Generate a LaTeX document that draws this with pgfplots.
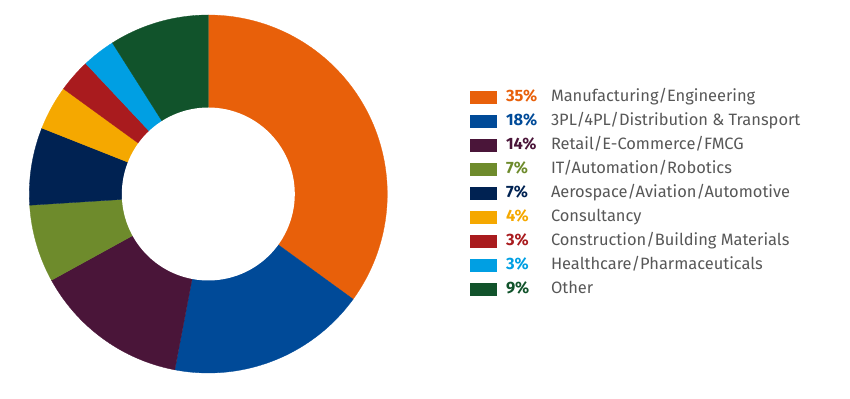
\documentclass[border=0pt]{standalone}
\usepackage{pgfplots}
\pgfplotsset{compat=1.18}
\usepackage{fontspec}
\setmainfont{Fira Sans}
\definecolor{cManu}{HTML}{E8600A}
\definecolor{cLog}{HTML}{004A98}
\definecolor{cRet}{HTML}{4A1539}
\definecolor{cIT}{HTML}{6E8B2C}
\definecolor{cAero}{HTML}{002252}
\definecolor{cCons}{HTML}{F5A800}
\definecolor{cConst}{HTML}{A91B1E}
\definecolor{cHealth}{HTML}{009FE3}
\definecolor{cOther}{HTML}{11532B}
\definecolor{cText}{HTML}{575757}
\newcommand{\pct}[2]{\makebox[45bp][l]{\textcolor{#1}{\bfseries #2}}}
\begin{document}
\begin{tikzpicture}
\begin{axis}[
  width=850bp, height=398bp, scale only axis,
  xmin=0, xmax=850, ymin=0, ymax=398,
  hide axis, clip=false,
  legend cell align=left,
  legend image code/.code={\fill[#1] (0bp,-6bp) rectangle (26bp,6bp);},
  legend style={at={(axis cs:470,310)}, anchor=north west, draw=none, fill=none,
    inner sep=0pt, outer sep=0pt, row sep=6bp, column sep=9.7bp,
    font=\fontsize{16.5}{19}\selectfont, text=cText,
    nodes={inner sep=0pt, text height=13.5bp, text depth=4.5bp}},
]
% invisible frame so that the picture spans the whole axis area
\addplot[draw=none, forget plot] coordinates {(0,0) (850,398)};
% donut sectors: domain = cumulative percentage bounds
\addplot[fill=cManu, draw=cManu, line width=0.3bp, domain=0:35, samples=80, variable=\p]
  ({208.3+179*cos(90-3.6*\p)}, {204+179*sin(90-3.6*\p)}) -- (axis cs:208.3,204) -- cycle;
\addlegendentry{\pct{cManu}{35\%}Manufacturing/Engineering}
\addplot[fill=cLog, draw=cLog, line width=0.3bp, domain=35:53, samples=40, variable=\p]
  ({208.3+179*cos(90-3.6*\p)}, {204+179*sin(90-3.6*\p)}) -- (axis cs:208.3,204) -- cycle;
\addlegendentry{\pct{cLog}{18\%}3PL/4PL/Distribution \& Transport}
\addplot[fill=cRet, draw=cRet, line width=0.3bp, domain=53:67, samples=30, variable=\p]
  ({208.3+179*cos(90-3.6*\p)}, {204+179*sin(90-3.6*\p)}) -- (axis cs:208.3,204) -- cycle;
\addlegendentry{\pct{cRet}{14\%}Retail/E-Commerce/FMCG}
\addplot[fill=cIT, draw=cIT, line width=0.3bp, domain=67:74, samples=20, variable=\p]
  ({208.3+179*cos(90-3.6*\p)}, {204+179*sin(90-3.6*\p)}) -- (axis cs:208.3,204) -- cycle;
\addlegendentry{\pct{cIT}{7\%}IT/Automation/Robotics}
\addplot[fill=cAero, draw=cAero, line width=0.3bp, domain=74:81, samples=20, variable=\p]
  ({208.3+179*cos(90-3.6*\p)}, {204+179*sin(90-3.6*\p)}) -- (axis cs:208.3,204) -- cycle;
\addlegendentry{\pct{cAero}{7\%}Aerospace/Aviation/Automotive}
\addplot[fill=cCons, draw=cCons, line width=0.3bp, domain=81:85, samples=15, variable=\p]
  ({208.3+179*cos(90-3.6*\p)}, {204+179*sin(90-3.6*\p)}) -- (axis cs:208.3,204) -- cycle;
\addlegendentry{\pct{cCons}{4\%}Consultancy}
\addplot[fill=cConst, draw=cConst, line width=0.3bp, domain=85:88, samples=12, variable=\p]
  ({208.3+179*cos(90-3.6*\p)}, {204+179*sin(90-3.6*\p)}) -- (axis cs:208.3,204) -- cycle;
\addlegendentry{\pct{cConst}{3\%}Construction/Building Materials}
\addplot[fill=cHealth, draw=cHealth, line width=0.3bp, domain=88:91, samples=12, variable=\p]
  ({208.3+179*cos(90-3.6*\p)}, {204+179*sin(90-3.6*\p)}) -- (axis cs:208.3,204) -- cycle;
\addlegendentry{\pct{cHealth}{3\%}Healthcare/Pharmaceuticals}
\addplot[fill=cOther, draw=cOther, line width=0.3bp, domain=91:100, samples=25, variable=\p]
  ({208.3+179*cos(90-3.6*\p)}, {204+179*sin(90-3.6*\p)}) -- (axis cs:208.3,204) -- cycle;
\addlegendentry{\pct{cOther}{9\%}Other}
% donut hole
\addplot[fill=white, draw=none, domain=0:100, samples=120, variable=\p, forget plot]
  ({208.3+86.5*cos(90-3.6*\p)}, {204+86.5*sin(90-3.6*\p)}) -- cycle;
\end{axis}
\end{tikzpicture}
\end{document}
